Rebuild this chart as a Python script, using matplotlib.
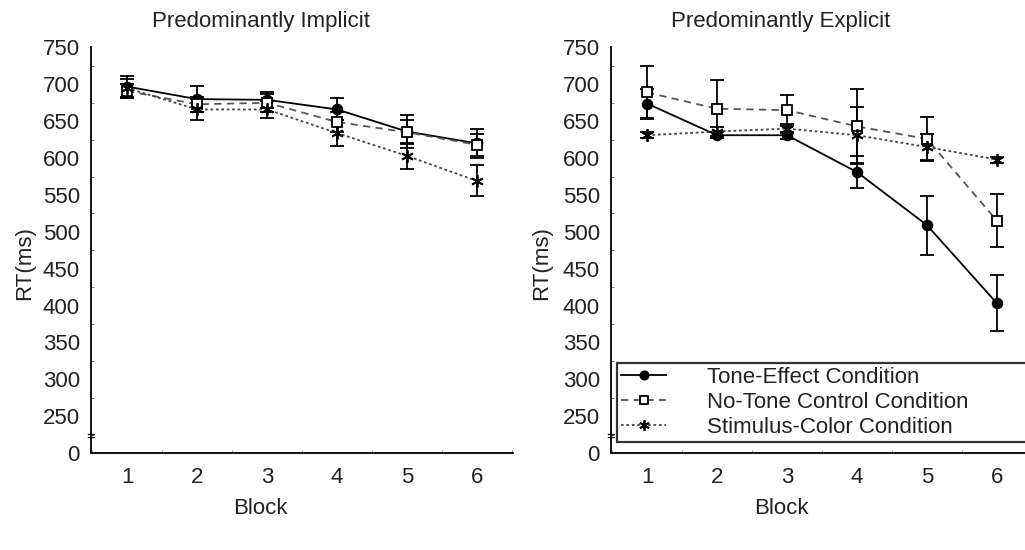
import matplotlib
matplotlib.use("Agg")
import matplotlib.pyplot as plt
import matplotlib.transforms as mtransforms
from matplotlib.ticker import MultipleLocator

plt.rcParams['font.family'] = ['Liberation Sans', 'DejaVu Sans']

blocks = [1, 2, 3, 4, 5, 6]
y_ticks = [200, 250, 300, 350, 400, 450, 500, 550, 600, 650, 700, 750]
y_tick_labels = ['0', '250', '300', '350', '400', '450', '500', '550', '600', '650', '700', '750']

panel_titles = ['Predominantly Implicit', 'Predominantly Explicit']
series_labels = ['Tone-Effect Condition', 'No-Tone Control Condition', 'Stimulus-Color Condition']

imp_tone = [697, 680, 679, 666, 636, 620]
imp_tone_err = [15, 18, 11, 15, 22, 20]
imp_none = [691, 673, 675, 649, 635, 618]
imp_none_err = [10, 10, 12, 14, 16, 15]
imp_stim = [695, 666, 666, 634, 603, 569]
imp_stim_err = [12, 14, 12, 18, 18, 21]

exp_tone = [674, 631, 631, 581, 509, 403]
exp_tone_err = [20, 4, 5, 22, 40, 38]
exp_none = [689, 667, 665, 643, 626, 515]
exp_none_err = [36, 39, 21, 51, 30, 36]
exp_stim = [631, 636, 640, 631, 615, 598]
exp_stim_err = [4, 6, 6, 38, 18, 4]

panels = [
    (imp_tone, imp_tone_err, imp_none, imp_none_err, imp_stim, imp_stim_err),
    (exp_tone, exp_tone_err, exp_none, exp_none_err, exp_stim, exp_stim_err),
]

W, H = 1025, 550
fig = plt.figure(figsize=(W / 100, H / 100), dpi=100)

ax_w = 422
axes_px = [(91, ax_w), (611, ax_w)]
bottom_px, top_px = 453, 47.5
title_x_px = [260.5, 781]
fs = 16

txt = '#222222'
styles = [
    dict(color='black', ls='-', marker='o', mfc='black', mec='black', ms=7, lw=1.3),
    dict(color='#555555', ls=(0, (4, 3)), marker='s', mfc='white', mec='black', ms=7, lw=1.3),
    dict(color='#444444', ls=(0, (1.5, 1.5)), marker=(6, 2, 0), mfc='black', mec='black', ms=9, lw=1.3),
]

for i, (left, width) in enumerate(axes_px):
    ax = fig.add_axes([left / W, 1 - bottom_px / H, width / W, (bottom_px - top_px) / H])
    data = panels[i]
    handles = []
    for k in range(3):
        vals, errs = data[2 * k], data[2 * k + 1]
        st = styles[k]
        ax.errorbar(blocks, vals, yerr=errs, fmt='none', ecolor='black', elinewidth=1.3,
                    capsize=5, capthick=1.3, zorder=2)
        h, = ax.plot(blocks, vals, color=st['color'], ls=st['ls'], lw=st['lw'],
                     marker=st['marker'], mfc=st['mfc'], mec=st['mec'], ms=st['ms'],
                     mew=1.3, zorder=3, label=series_labels[k])
        handles.append(h)
    ax.set_xlim(0.485, 6.515)
    ax.set_ylim(200, 750)
    ax.set_yticks(y_ticks)
    ax.set_yticklabels(y_tick_labels)
    ax.set_xticks(blocks)
    ax.yaxis.set_minor_locator(MultipleLocator(25))
    ax.xaxis.set_minor_locator(MultipleLocator(0.5))
    ax.tick_params(axis='both', which='major', length=0, labelsize=fs, colors=txt, pad=8)
    ax.tick_params(axis='x', which='major', pad=10)
    ax.tick_params(axis='y', which='minor', direction='in', length=2, width=0.6, color='#666666')
    ax.tick_params(axis='x', which='minor', direction='in', length=2, width=0.6, color='#888888')
    for s in ['top', 'right']:
        ax.spines[s].set_visible(False)
    for s in ['left', 'bottom']:
        ax.spines[s].set_linewidth(1.3)
        ax.spines[s].set_color('black')
    ax.set_xlabel('Block', fontsize=fs, color=txt, va='center', ha='center')
    ax.xaxis.set_label_coords((title_x_px[i] - left) / width, (bottom_px - 508) / (bottom_px - top_px))
    ylab_x = 25 if i == 0 else 542
    ax.set_ylabel('RT(ms)', fontsize=fs, color=txt, va='center', ha='center')
    ax.yaxis.set_label_coords((ylab_x - left) / width, (bottom_px - 263) / (bottom_px - top_px))
    fig.text(title_x_px[i] / W, 1 - 21 / H, panel_titles[i], fontsize=fs, color=txt,
             ha='center', va='center')
    # axis break marks
    tr = mtransforms.blended_transform_factory(ax.transAxes, ax.transData)
    for yb in (222, 226):
        ax.plot([-0.008, 0.008], [yb, yb], transform=tr, color='black', lw=0.9, clip_on=False)
    if i == 1:
        leg = ax.legend(handles=handles, loc='lower left',
                        bbox_to_anchor=(0.014, 0.027, 1.2, 0.202), mode='expand',
                        fontsize=fs, frameon=True, fancybox=False, edgecolor='black',
                        handlelength=2.0, handletextpad=1.85, labelspacing=0.17,
                        borderpad=0.2, borderaxespad=0, markerscale=0.85)
        leg.get_frame().set_linewidth(1.6)
        for t in leg.get_texts():
            t.set_color(txt)

fig.savefig('out.png', dpi=100)
